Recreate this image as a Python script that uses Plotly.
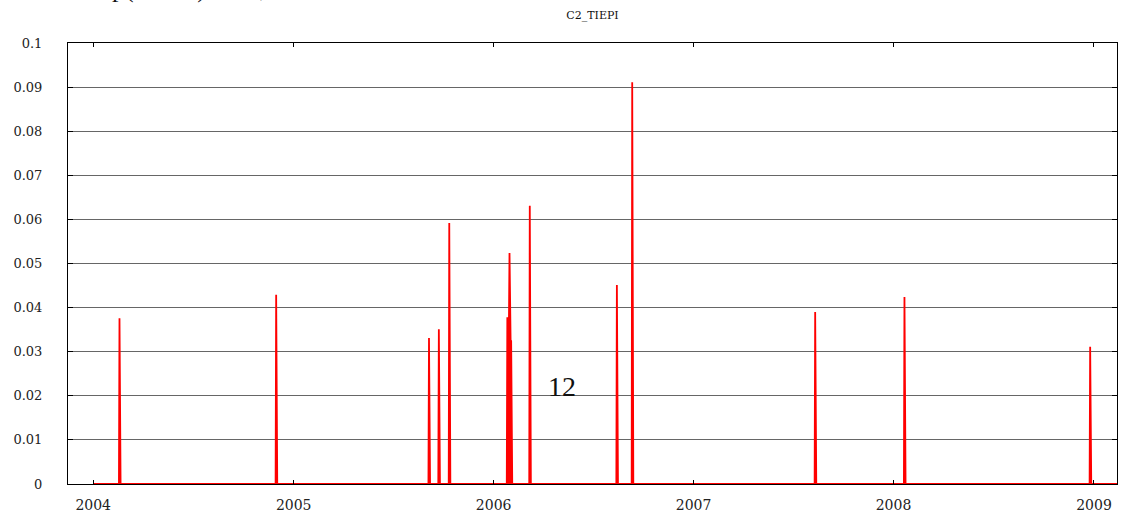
import pandas as pd
import plotly.graph_objects as go

# ---- data ----
spike_dates = [
    "2004-02-18", "2004-11-30", "2005-09-05", "2005-09-23", "2005-10-12",
    "2006-01-26", "2006-01-27", "2006-01-28", "2006-01-29", "2006-01-30",
    "2006-01-31", "2006-02-01", "2006-02-02", "2006-03-08", "2006-08-14",
    "2006-09-11", "2007-08-11", "2008-01-21", "2008-12-25",
]
spike_values = [
    0.0376, 0.0429, 0.0331, 0.0351, 0.0592,
    0.0376, 0.0376, 0.0376, 0.0376, 0.0524,
    0.0324, 0.0324, 0.0324, 0.0631, 0.0451,
    0.0911, 0.0390, 0.0424, 0.0311,
]
series_start = "2004-01-01"
series_end = "2009-02-20"

year_ticks = ["2004-01-01", "2005-01-01", "2006-01-01", "2007-01-01", "2008-01-01", "2009-01-01"]
year_labels = ["2004", "2005", "2006", "2007", "2008", "2009"]
y_ticks = [0, 0.01, 0.02, 0.03, 0.04, 0.05, 0.06, 0.07, 0.08, 0.09, 0.1]
y_labels = ["0", "0.01", "0.02", "0.03", "0.04", "0.05", "0.06", "0.07", "0.08", "0.09", "0.1"]

title_text = "C2_TIEPI"
note_text = "12"

# ---- build daily series ----
days = pd.date_range(series_start, series_end, freq="D")
s = pd.Series(0.0, index=days)
for d, v in zip(spike_dates, spike_values):
    s[pd.Timestamp(d)] = v

fig = go.Figure()
fig.add_trace(go.Scatter(
    x=s.index, y=s.values, mode="lines",
    line=dict(color="#ff0000", width=1.8),
    fill="tozeroy", fillcolor="#ff0000",
    hoverinfo="x+y", showlegend=False,
))

serif = "DejaVu Serif"

fig.update_layout(
    width=1121, height=513,
    margin=dict(l=68, r=4, t=43, b=29, autoexpand=False),
    paper_bgcolor="white", plot_bgcolor="white",
    title=dict(text=title_text, x=0.5, xref="paper", xanchor="center",
               y=1 - 15 / 513, yref="container", yanchor="middle",
               font=dict(family=serif, size=11, color="#111"),
               automargin=False),
    xaxis=dict(
        type="date", range=["2003-11-16", "2009-02-12"],
        tickvals=year_ticks, ticktext=year_labels,
        ticks="inside", ticklen=4, tickcolor="black", tickwidth=1,
        showline=True, linecolor="black", linewidth=1, mirror="ticks",
        showgrid=False, zeroline=False, automargin=False,
        tickfont=dict(family=serif, size=14, color="#222"),
        ticklabelstandoff=8,
    ),
    yaxis=dict(
        range=[0, 0.1], tickvals=y_ticks, ticktext=y_labels,
        ticks="inside", ticklen=5, tickcolor="black", tickwidth=1,
        showline=True, linecolor="black", linewidth=1, mirror="ticks",
        showgrid=True, gridcolor="#666666", gridwidth=1, zeroline=False,
        automargin=False,
        tickfont=dict(family=serif, size=13, color="#222"),
        ticklabelstandoff=22,
    ),
    annotations=[
        dict(text=note_text, x="2006-05-05", y=0.022, xref="x", yref="y",
             showarrow=False, xanchor="center", yanchor="middle",
             font=dict(family="Liberation Serif", size=28, color="#111")),
        dict(text="p(TIEPI) = 10,", x=0.04, y=1 + 38 / 441, xref="paper", yref="paper",
             showarrow=False, xanchor="left", yanchor="bottom",
             font=dict(family="Liberation Serif", size=26, color="#111")),
    ],
)

fig.write_html("out.html", config={"displayModeBar": False},
               post_script="document.body.style.margin='0';")
